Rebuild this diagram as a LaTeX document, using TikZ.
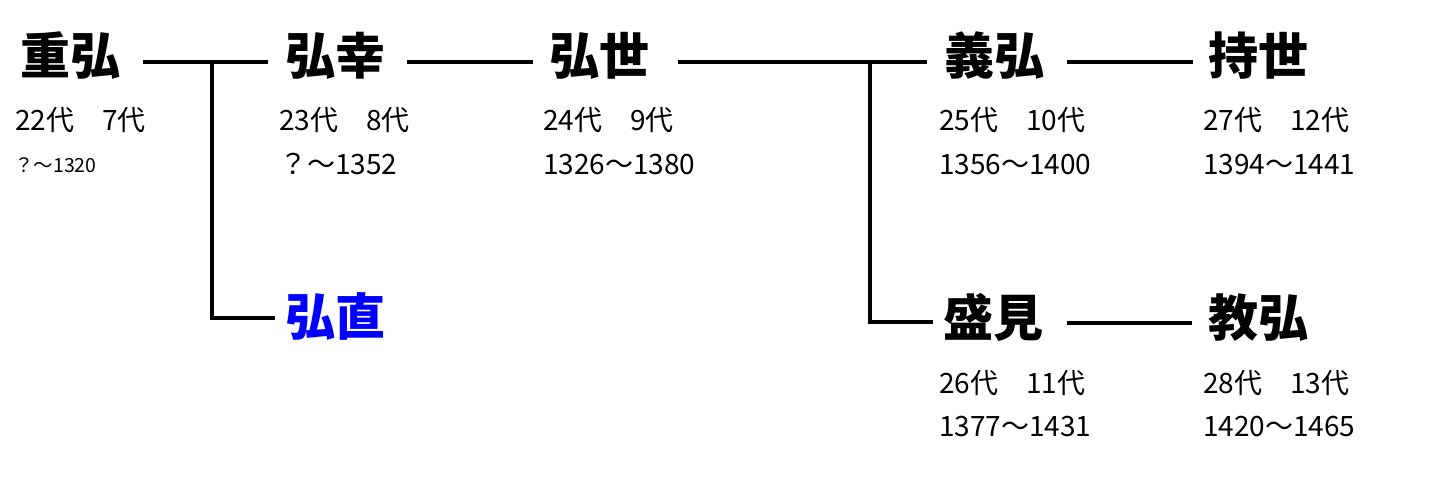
\documentclass[tikz,border=0pt]{standalone}
\usepackage{fontspec}
\newfontfamily\jp{Noto Sans CJK JP}
\begin{document}
\begin{tikzpicture}[x=1pt,y=-1pt,
  namenode/.style={anchor=base west,inner sep=0pt,font=\jp\fontsize{50pt}{50pt}\selectfont\bfseries},
  subnode/.style={anchor=base west,inner sep=0pt,font=\jp\fontsize{28pt}{28pt}\selectfont},
  smallnode/.style={anchor=base west,inner sep=0pt,font=\jp\fontsize{19.5pt}{19.5pt}\selectfont},
  conn/.style={line width=4pt,black,line join=miter}]
\useasboundingbox[fill=white] (0,0) rectangle (1437,478);
% names
\node[namenode] (n1) at (20,75) {重弘};
\node[namenode] (n2) at (285,75) {弘幸};
\node[namenode] (n3) at (549,75) {弘世};
\node[namenode] (n4) at (944,75) {義弘};
\node[namenode] (n5) at (1208,75) {持世};
\node[namenode,text=blue] (n6) at (285,335) {弘直};
\node[namenode] (n7) at (943,336) {盛見};
\node[namenode] (n8) at (1208,336) {教弘};
% sub texts
\node[subnode] (g1) at (15,131) {22代　7代};
\node[smallnode] (d1) at (14,173) {？～1320};
\node[subnode] (g2) at (279,131) {23代　8代};
\node[subnode] (d2) at (279,175) {？～1352};
\node[subnode] (g3) at (543,131) {24代　9代};
\node[subnode] (d3) at (543,175) {1326～1380};
\node[subnode] (g4) at (939,131) {25代　10代};
\node[subnode] (d4) at (939,175) {1356～1400};
\node[subnode] (g5) at (1203,131) {27代　12代};
\node[subnode] (d5) at (1203,175) {1394～1441};
\node[subnode] (g7) at (939,393) {26代　11代};
\node[subnode] (d7) at (939,436) {1377～1431};
\node[subnode] (g8) at (1203,393) {28代　13代};
\node[subnode] (d8) at (1203,436) {1420～1465};
% connectors
\coordinate (j1) at (212,62);
\coordinate (j2) at (870,62);
\draw[conn] ([xshift=23pt,yshift=13pt]n1.base east) -- ([xshift=-17pt,yshift=13pt]n2.base west);
\draw[conn] (j1) |- ([xshift=-10pt,yshift=17pt]n6.base west);
\draw[conn] ([xshift=22pt,yshift=13pt]n2.base east) -- ([xshift=-16pt,yshift=13pt]n3.base west);
\draw[conn] ([xshift=29pt,yshift=13pt]n3.base east) -- ([xshift=-17pt,yshift=13pt]n4.base west);
\draw[conn] (j2) |- ([xshift=-10pt,yshift=14pt]n7.base west);
\draw[conn] ([xshift=23pt,yshift=13pt]n4.base east) -- ([xshift=-15pt,yshift=13pt]n5.base west);
\draw[conn] ([xshift=24pt,yshift=13pt]n7.base east) -- ([xshift=-16pt,yshift=13pt]n8.base west);
\end{tikzpicture}
\end{document}
